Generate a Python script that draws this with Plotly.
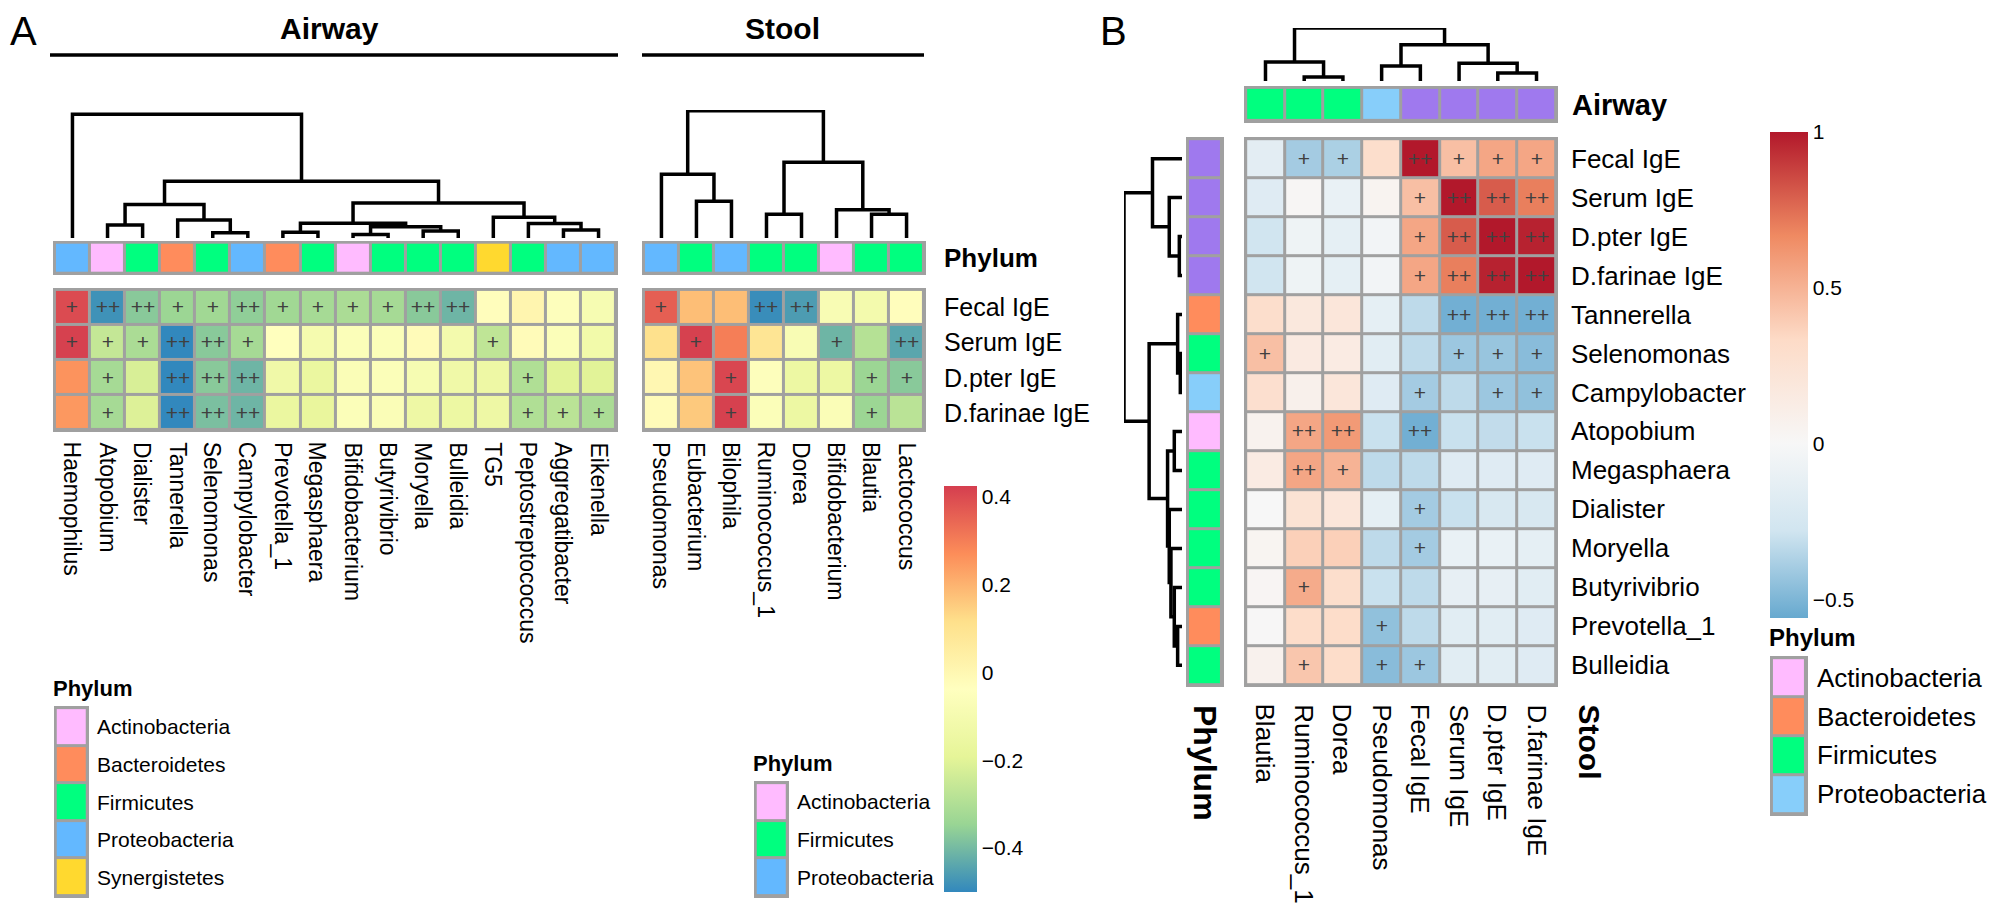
import plotly.graph_objects as go

W, H = 2007, 914
def fx(px): return px / W
def fy(py): return 1 - py / H

# ------------------------- DATA -------------------------
airway_genera = ["Haemophilus", "Atopobium", "Dialister", "Tannerella", "Selenomonas", "Campylobacter",
                 "Prevotella_1", "Megasphaera", "Bifidobacterium", "Butyrivibrio", "Moryella", "Bulleidia",
                 "TG5", "Peptostreptococcus", "Aggregatibacter", "Eikenella"]
airway_phylum = ["Proteobacteria", "Actinobacteria", "Firmicutes", "Bacteroidetes", "Firmicutes", "Proteobacteria",
                 "Bacteroidetes", "Firmicutes", "Actinobacteria", "Firmicutes", "Firmicutes", "Firmicutes",
                 "Synergistetes", "Firmicutes", "Proteobacteria", "Proteobacteria"]
stool_genera = ["Pseudomonas", "Eubacterium", "Bilophila", "Ruminococcus_1", "Dorea", "Bifidobacterium", "Blautia", "Lactococcus"]
stool_phylum = ["Proteobacteria", "Firmicutes", "Proteobacteria", "Firmicutes", "Firmicutes", "Actinobacteria", "Firmicutes", "Firmicutes"]
ige_rows = ["Fecal IgE", "Serum IgE", "D.pter IgE", "D.farinae IgE"]

airway_fecal    = [0.40, -0.48, -0.37, -0.34, -0.33, -0.36, -0.33, -0.32, -0.31, -0.32, -0.37, -0.41, -0.03, 0.01, -0.05, -0.09]
airway_serum    = [0.42, -0.26, -0.31, -0.50, -0.37, -0.32, -0.04, -0.10, -0.06, -0.06, -0.02, -0.11, -0.27, -0.02, -0.06, -0.12]
airway_dpter    = [0.26, -0.32, -0.22, -0.50, -0.37, -0.41, -0.13, -0.16, -0.07, -0.06, -0.09, -0.13, -0.14, -0.30, -0.20, -0.20]
airway_dfarinae = [0.25, -0.32, -0.21, -0.50, -0.39, -0.41, -0.16, -0.17, -0.06, -0.07, -0.14, -0.15, -0.14, -0.30, -0.28, -0.31]
airway_sig_fecal    = ["+", "++", "++", "+", "+", "++", "+", "+", "+", "+", "++", "++", "", "", "", ""]
airway_sig_serum    = ["+", "+", "+", "++", "++", "+", "", "", "", "", "", "", "+", "", "", ""]
airway_sig_dpter    = ["", "+", "", "++", "++", "++", "", "", "", "", "", "", "", "+", "", ""]
airway_sig_dfarinae = ["", "+", "", "++", "++", "++", "", "", "", "", "", "", "", "+", "+", "+"]

stool_fecal    = [0.36, 0.18, 0.18, -0.49, -0.46, -0.08, -0.11, -0.03]
stool_serum    = [0.11, 0.42, 0.30, 0.09, -0.08, -0.41, -0.29, -0.44]
stool_dpter    = [0.00, 0.17, 0.41, -0.05, -0.15, -0.15, -0.34, -0.37]
stool_dfarinae = [-0.02, 0.16, 0.42, -0.06, -0.15, -0.07, -0.34, -0.28]
stool_sig_fecal    = ["+", "", "", "++", "++", "", "", ""]
stool_sig_serum    = ["", "+", "", "", "", "+", "", "++"]
stool_sig_dpter    = ["", "", "+", "", "", "", "+", "+"]
stool_sig_dfarinae = ["", "", "+", "", "", "", "+", ""]

# dendrograms (hclust style merges: negative = leaf, positive = earlier merge; height)
airway_merges = [(-5, -6, 15), (-4, 1, 52), (-2, -3, 38), (3, 2, 97), (-7, -8, 17), (-9, -10, 10),
                 (-11, -12, 20), (6, 7, 33), (5, 8, 43), (-15, -16, 23), (-14, 10, 42), (-13, 11, 60),
                 (9, 12, 102), (4, 13, 165), (-1, 14, 360)]
stool_merges = [(-2, -3, 107), (-1, 1, 185), (-4, -5, 69), (-7, -8, 69), (-6, 4, 82), (3, 5, 220), (2, 6, 370)]

legendA_airway = ["Actinobacteria", "Bacteroidetes", "Firmicutes", "Proteobacteria", "Synergistetes"]
legendA_stool = ["Actinobacteria", "Firmicutes", "Proteobacteria"]

# Panel B
b_cols = ["Blautia", "Ruminococcus_1", "Dorea", "Pseudomonas", "Fecal IgE", "Serum IgE", "D.pter IgE", "D.farinae IgE"]
b_col_group = ["Firmicutes", "Firmicutes", "Firmicutes", "Proteobacteria", "IgE", "IgE", "IgE", "IgE"]
b_rows = ["Fecal IgE", "Serum IgE", "D.pter IgE", "D.farinae IgE", "Tannerella", "Selenomonas", "Campylobacter",
          "Atopobium", "Megasphaera", "Dialister", "Moryella", "Butyrivibrio", "Prevotella_1", "Bulleidia"]
b_row_group = ["IgE", "IgE", "IgE", "IgE", "Bacteroidetes", "Firmicutes", "Proteobacteria", "Actinobacteria",
               "Firmicutes", "Firmicutes", "Firmicutes", "Firmicutes", "Bacteroidetes", "Firmicutes"]

b_fecal_ige    = [-0.15, -0.40, -0.38, 0.30, 1.00, 0.45, 0.55, 0.55]
b_serum_ige    = [-0.18, 0.02, -0.10, 0.05, 0.45, 1.00, 0.80, 0.70]
b_dpter_ige    = [-0.28, -0.07, -0.13, -0.04, 0.55, 0.80, 1.00, 0.97]
b_dfarinae_ige = [-0.28, -0.07, -0.13, -0.04, 0.55, 0.70, 0.97, 1.00]
b_tannerella   = [0.30, 0.18, 0.20, -0.13, -0.33, -0.53, -0.53, -0.53]
b_selenomonas  = [0.45, 0.15, 0.14, -0.16, -0.33, -0.42, -0.43, -0.47]
b_campylo      = [0.28, 0.08, 0.20, -0.18, -0.40, -0.33, -0.42, -0.45]
b_atopobium    = [0.06, 0.55, 0.60, -0.30, -0.53, -0.30, -0.32, -0.30]
b_megasphaera  = [0.14, 0.55, 0.50, -0.33, -0.33, -0.18, -0.18, -0.18]
b_dialister    = [0.00, 0.24, 0.20, -0.13, -0.40, -0.30, -0.23, -0.23]
b_moryella     = [0.04, 0.38, 0.38, -0.33, -0.40, -0.10, -0.10, -0.13]
b_butyrivibrio = [0.03, 0.53, 0.30, -0.30, -0.33, -0.12, -0.12, -0.16]
b_prevotella   = [0.01, 0.31, 0.31, -0.45, -0.33, -0.16, -0.16, -0.18]
b_bulleidia    = [0.07, 0.42, 0.31, -0.47, -0.42, -0.16, -0.16, -0.18]

b_sig_fecal    = ["", "+", "+", "", "++", "+", "+", "+"]
b_sig_serum    = ["", "", "", "", "+", "++", "++", "++"]
b_sig_dpter    = ["", "", "", "", "+", "++", "++", "++"]
b_sig_dfarinae = ["", "", "", "", "+", "++", "++", "++"]
b_sig_tann     = ["", "", "", "", "", "++", "++", "++"]
b_sig_selen    = ["+", "", "", "", "", "+", "+", "+"]
b_sig_campy    = ["", "", "", "", "+", "", "+", "+"]
b_sig_atop     = ["", "++", "++", "", "++", "", "", ""]
b_sig_mega     = ["", "++", "+", "", "", "", "", ""]
b_sig_dial     = ["", "", "", "", "+", "", "", ""]
b_sig_mory     = ["", "", "", "", "+", "", "", ""]
b_sig_buty     = ["", "+", "", "", "", "", "", ""]
b_sig_prev     = ["", "", "", "+", "", "", "", ""]
b_sig_bull     = ["", "+", "", "+", "+", "", "", ""]

b_row_merges = [(-3, -4, 8), (-2, 1, 38), (-1, 2, 88), (-6, -7, 5), (-5, 4, 13), (-8, -9, 23),
                (-13, -14, 13), (-12, 7, 23), (-11, 8, 33), (-10, 9, 38), (6, 10, 43), (5, 11, 98), (3, 12, 173)]
b_col_merges = [(-2, -3, 4.5), (-1, 1, 21.5), (-7, -8, 9), (-6, 3, 20), (-4, -5, 17), (5, 4, 41), (2, 6, 60)]

legendB = ["Actinobacteria", "Bacteroidetes", "Firmicutes", "Proteobacteria"]

# ------------------------- STYLE -------------------------
PHY_A = {"Actinobacteria": "#FFBBFF", "Bacteroidetes": "#FF8C5C", "Firmicutes": "#00FF7F",
         "Proteobacteria": "#63B8FF", "Synergistetes": "#FFD92F"}
PHY_B = {"Actinobacteria": "#FFBBFF", "Bacteroidetes": "#FF8C5C", "Firmicutes": "#00FF7F",
         "Proteobacteria": "#87CEFA", "IgE": "#9F79EE"}
GRID = "#A0A0A0"
FONT = "Liberation Sans, Arial, sans-serif"
SPECTRAL = [[0, "#3288BD"], [1/6, "#99D594"], [2/6, "#E6F598"], [3/6, "#FFFFBF"],
            [4/6, "#FEE08B"], [5/6, "#FC8D59"], [1, "#D53E4F"]]
A_MIN, A_MAX = -0.5, 0.425
B_MIN, B_MAX = -0.56, 1.0
def bf(v): return (v - B_MIN) / (B_MAX - B_MIN)
RDBU = [[0, "#67A9CF"], [bf(-0.28), "#D1E5F0"], [bf(0), "#F7F7F7"], [bf(0.333), "#FDDBC7"],
        [bf(0.667), "#EF8A62"], [1, "#B2182B"]]
E = 0.055

fig = go.Figure()
layout_axes = {}
shapes = []
annots = []

def add_axis(kind, idx, domain, rng, anchor):
    key = f"{kind}axis" + ("" if idx == 1 else str(idx))
    layout_axes[key] = dict(domain=domain, range=rng, visible=False, fixedrange=True, anchor=anchor)

def ref(kind, idx):
    return kind + ("" if idx == 1 else str(idx))

def bg(xi, yi):
    shapes.append(dict(type="rect", xref=ref("x", xi) + " domain", yref=ref("y", yi) + " domain",
                       x0=0, x1=1, y0=0, y1=1, fillcolor=GRID, line=dict(width=0), layer="below"))

def discrete(cats, cmap):
    uniq = []
    for c in cats:
        if c not in uniq:
            uniq.append(c)
    n = len(uniq)
    cs = []
    for i, c in enumerate(uniq):
        cs.append([i / n, cmap[c]]); cs.append([(i + 1) / n, cmap[c]])
    return [uniq.index(c) for c in cats], cs, n

def dendro(merges):
    pos, hgt = {}, {}
    def get(i):
        if i < 0:
            return -i - 1, 0.0
        return pos[i], hgt[i]
    xs, ys = [], []
    for k, (a, b, h) in enumerate(merges, start=1):
        xa, ha = get(a); xb, hb = get(b)
        xs += [xa, xa, xb, xb, None]; ys += [ha, h, h, hb, None]
        pos[k] = (xa + xb) / 2; hgt[k] = h
    return xs, ys

# ------------------------- AXES (pixel layout) -------------------------
A_TOP, A_BOT = 280, 424
ANN_TOP, ANN_BOT = 233, 267
DEN_TOP, DEN_BOT = 102, 230
AW_L, AW_R = 45, 610
ST_L, ST_R = 634, 918
add_axis("x", 1, [fx(AW_L), fx(AW_R)], [-0.5 - E, 15.5 + E], "y")
add_axis("x", 2, [fx(ST_L), fx(ST_R)], [-0.5 - E, 7.5 + E], "y")
add_axis("y", 1, [fy(A_BOT), fy(A_TOP)], [3.5 + E, -0.5 - E], "x")
add_axis("y", 2, [fy(ANN_BOT), fy(ANN_TOP)], [0.5 + E, -0.5 - E], "x")
add_axis("y", 3, [fy(DEN_BOT), fy(DEN_TOP)], [0, 372], "x")
# legends A
LA_L, LA_R, LA_T, LA_B = 46, 81, 698, 890
LS_L, LS_R, LS_T, LS_B = 746, 781, 773, 890
add_axis("x", 3, [fx(LA_L), fx(LA_R)], [-0.5 - E, 0.5 + E], "y4")
add_axis("y", 4, [fy(LA_B), fy(LA_T)], [4.5 + E, -0.5 - E], "x3")
add_axis("x", 4, [fx(LS_L), fx(LS_R)], [-0.5 - E, 0.5 + E], "y5")
add_axis("y", 5, [fy(LS_B), fy(LS_T)], [2.5 + E, -0.5 - E], "x4")
# panel B
B_L, B_R, B_T, B_B = 1236, 1550, 129, 679
add_axis("x", 5, [fx(B_L), fx(B_R)], [-0.5 - E, 7.5 + E], "y6")
add_axis("y", 6, [fy(B_B), fy(B_T)], [13.5 + E, -0.5 - E], "x5")
add_axis("y", 7, [fy(115), fy(78)], [0.5 + E, -0.5 - E], "x5")
add_axis("x", 6, [fx(1178), fx(1216)], [-0.5 - E, 0.5 + E], "y6")
add_axis("y", 8, [fy(73), fy(20)], [0, 60], "x5")
add_axis("x", 7, [fx(1116), fx(1174)], [173, 0], "y6")
LB_L, LB_R, LB_T, LB_B = 1762, 1800, 648, 808
add_axis("x", 8, [fx(LB_L), fx(LB_R)], [-0.5 - E, 0.5 + E], "y9")
add_axis("y", 9, [fy(LB_B), fy(LB_T)], [3.5 + E, -0.5 - E], "x8")

MARK = dict(size=21, color="#404040", family=FONT)

# ------------------------- PANEL A -------------------------
fig.add_trace(go.Heatmap(z=[airway_fecal, airway_serum, airway_dpter, airway_dfarinae],
                         x=list(range(len(airway_genera))), y=list(range(len(ige_rows))),
                         text=[airway_sig_fecal, airway_sig_serum, airway_sig_dpter, airway_sig_dfarinae],
                         texttemplate="%{text}", textfont=MARK, coloraxis="coloraxis",
                         xgap=3, ygap=3, hoverinfo="skip", xaxis="x", yaxis="y"))
fig.add_trace(go.Heatmap(z=[stool_fecal, stool_serum, stool_dpter, stool_dfarinae],
                         x=list(range(len(stool_genera))), y=list(range(len(ige_rows))),
                         text=[stool_sig_fecal, stool_sig_serum, stool_sig_dpter, stool_sig_dfarinae],
                         texttemplate="%{text}", textfont=MARK, coloraxis="coloraxis",
                         xgap=3, ygap=3, hoverinfo="skip", xaxis="x2", yaxis="y"))
bg(1, 1); bg(2, 1)

for xi, cats in ((1, airway_phylum), (2, stool_phylum)):
    zi, cs, n = discrete(cats, PHY_A)
    fig.add_trace(go.Heatmap(z=[zi], x=list(range(len(cats))), y=[0], colorscale=cs, zmin=-0.5, zmax=n - 0.5,
                             showscale=False, xgap=3, ygap=3, hoverinfo="skip", xaxis=ref("x", xi), yaxis="y2"))
    bg(xi, 2)

for xi, merges in ((1, airway_merges), (2, stool_merges)):
    dx, dy = dendro(merges)
    fig.add_trace(go.Scatter(x=dx, y=dy, mode="lines", line=dict(color="black", width=3.5),
                             hoverinfo="skip", showlegend=False, xaxis=ref("x", xi), yaxis="y3"))

# legends A
for xi, yi, cats in ((3, 4, legendA_airway), (4, 5, legendA_stool)):
    zi, cs, n = discrete(cats, PHY_A)
    fig.add_trace(go.Heatmap(z=[[v] for v in zi], x=[0], y=list(range(len(cats))), colorscale=cs,
                             zmin=-0.5, zmax=n - 0.5, showscale=False, xgap=3, ygap=3, hoverinfo="skip",
                             xaxis=ref("x", xi), yaxis=ref("y", yi)))
    bg(xi, yi)
    for i, c in enumerate(cats):
        annots.append(dict(text=c, xref=ref("x", xi) + " domain", x=1, xshift=6, xanchor="left",
                           yref=ref("y", yi), y=i, yanchor="middle", showarrow=False,
                           font=dict(size=21)))
annots.append(dict(text="<b>Phylum</b>", xref="paper", x=fx(LA_L - 3), xanchor="left", yref="paper",
                   y=fy(LA_T - 18), yanchor="middle", showarrow=False, font=dict(size=22)))
annots.append(dict(text="<b>Phylum</b>", xref="paper", x=fx(LS_L - 3), xanchor="left", yref="paper",
                   y=fy(LS_T - 18), yanchor="middle", showarrow=False, font=dict(size=22)))

# labels A
for i, r in enumerate(ige_rows):
    annots.append(dict(text=r, xref="paper", x=fx(934), xanchor="left", yref="y", y=i, yanchor="middle",
                       showarrow=False, font=dict(size=25)))
annots.append(dict(text="<b>Phylum</b>", xref="paper", x=fx(934), xanchor="left", yref="y2", y=0,
                   yanchor="middle", showarrow=False, font=dict(size=26)))
for xi, genera in ((1, airway_genera), (2, stool_genera)):
    for i, g in enumerate(genera):
        annots.append(dict(text=g, xref=ref("x", xi), x=i, xanchor="center", yref="paper", y=fy(A_BOT + 8),
                           yanchor="top", textangle=90, showarrow=False, font=dict(size=23)))

# titles
annots.append(dict(text="A", xref="paper", x=0, xanchor="left", yref="paper", y=fy(23), yanchor="middle",
                   showarrow=False, font=dict(size=40)))
annots.append(dict(text="<b>Airway</b>", xref="paper", x=fx((AW_L + AW_R) / 2 - 6), xanchor="center", yref="paper",
                   y=fy(20), yanchor="middle", showarrow=False, font=dict(size=30)))
annots.append(dict(text="<b>Stool</b>", xref="paper", x=fx((ST_L + ST_R) / 2 - 2), xanchor="center", yref="paper",
                   y=fy(20), yanchor="middle", showarrow=False, font=dict(size=30)))
for x0, x1 in ((AW_L - 3, AW_R), (ST_L, ST_R - 2)):
    shapes.append(dict(type="line", xref="paper", yref="paper", x0=fx(x0), x1=fx(x1), y0=fy(47), y1=fy(47),
                       line=dict(color="black", width=3.5)))
annots.append(dict(text="B", xref="paper", x=fx(1090), xanchor="left", yref="paper", y=fy(23), yanchor="middle",
                   showarrow=False, font=dict(size=40)))

# ------------------------- PANEL B -------------------------
b_matrix = [b_fecal_ige, b_serum_ige, b_dpter_ige, b_dfarinae_ige, b_tannerella, b_selenomonas, b_campylo,
            b_atopobium, b_megasphaera, b_dialister, b_moryella, b_butyrivibrio, b_prevotella, b_bulleidia]
b_sig = [b_sig_fecal, b_sig_serum, b_sig_dpter, b_sig_dfarinae, b_sig_tann, b_sig_selen, b_sig_campy,
         b_sig_atop, b_sig_mega, b_sig_dial, b_sig_mory, b_sig_buty, b_sig_prev, b_sig_bull]
fig.add_trace(go.Heatmap(z=b_matrix, x=list(range(len(b_cols))), y=list(range(len(b_rows))), text=b_sig,
                         texttemplate="%{text}", textfont=MARK, coloraxis="coloraxis2", xgap=3, ygap=3,
                         hoverinfo="skip", xaxis="x5", yaxis="y6"))
bg(5, 6)
zi, cs, n = discrete(b_col_group, PHY_B)
fig.add_trace(go.Heatmap(z=[zi], x=list(range(len(b_cols))), y=[0], colorscale=cs, zmin=-0.5, zmax=n - 0.5,
                         showscale=False, xgap=3, ygap=3, hoverinfo="skip", xaxis="x5", yaxis="y7"))
bg(5, 7)
zi, cs, n = discrete(b_row_group, PHY_B)
fig.add_trace(go.Heatmap(z=[[v] for v in zi], x=[0], y=list(range(len(b_rows))), colorscale=cs, zmin=-0.5,
                         zmax=n - 0.5, showscale=False, xgap=3, ygap=3, hoverinfo="skip", xaxis="x6", yaxis="y6"))
bg(6, 6)
dx, dy = dendro(b_col_merges)
fig.add_trace(go.Scatter(x=dx, y=dy, mode="lines", line=dict(color="black", width=3.5), hoverinfo="skip",
                         showlegend=False, xaxis="x5", yaxis="y8"))
dx, dy = dendro(b_row_merges)
fig.add_trace(go.Scatter(x=dy, y=dx, mode="lines", line=dict(color="black", width=3.5), hoverinfo="skip",
                         showlegend=False, xaxis="x7", yaxis="y6"))

zi, cs, n = discrete(legendB, PHY_B)
fig.add_trace(go.Heatmap(z=[[v] for v in zi], x=[0], y=list(range(len(legendB))), colorscale=cs, zmin=-0.5,
                         zmax=n - 0.5, showscale=False, xgap=3, ygap=3, hoverinfo="skip", xaxis="x8", yaxis="y9"))
bg(8, 9)
for i, c in enumerate(legendB):
    annots.append(dict(text=c, xref="x8 domain", x=1, xshift=7, xanchor="left", yref="y9", y=i,
                       yanchor="middle", showarrow=False, font=dict(size=26)))
annots.append(dict(text="<b>Phylum</b>", xref="paper", x=fx(LB_L - 3), xanchor="left", yref="paper",
                   y=fy(LB_T - 19), yanchor="middle", showarrow=False, font=dict(size=24)))

for i, r in enumerate(b_rows):
    annots.append(dict(text=r, xref="paper", x=fx(1561), xanchor="left", yref="y6", y=i, yanchor="middle",
                       showarrow=False, font=dict(size=26)))
for i, c in enumerate(b_cols):
    annots.append(dict(text=c, xref="x5", x=i, xanchor="center", yref="paper", y=fy(B_B + 15), yanchor="top",
                       textangle=90, showarrow=False, font=dict(size=26)))
annots.append(dict(text="<b>Airway</b>", xref="paper", x=fx(1562), xanchor="left", yref="y7", y=0,
                   yanchor="middle", showarrow=False, font=dict(size=29)))
annots.append(dict(text="<b>Stool</b>", xref="paper", x=fx(1581), xanchor="center", yref="paper",
                   y=fy(B_B + 15), yanchor="top", textangle=90, showarrow=False, font=dict(size=30)))
annots.append(dict(text="<b>Phylum</b>", xref="x6", x=0, xanchor="center", yref="paper", y=fy(B_B + 16),
                   yanchor="top", textangle=90, showarrow=False, font=dict(size=32)))

fig.update_layout(
    width=W, height=H, margin=dict(l=0, r=0, t=0, b=0), paper_bgcolor="white", plot_bgcolor="white",
    font=dict(family=FONT, color="black"), showlegend=False,
    coloraxis=dict(colorscale=SPECTRAL, cmin=A_MIN, cmax=A_MAX,
                   colorbar=dict(x=fx(936), xanchor="left", y=fy(478), yanchor="top", len=406, lenmode="pixels",
                                 thickness=33, thicknessmode="pixels", outlinewidth=0, xpad=0, ypad=0,
                                 tickvals=[0.4, 0.2, 0, -0.2, -0.4], ticktext=["0.4", "0.2", "0", "−0.2", "−0.4"],
                                 ticks="", tickfont=dict(size=21))),
    coloraxis2=dict(colorscale=RDBU, cmin=B_MIN, cmax=B_MAX,
                    colorbar=dict(x=fx(1762), xanchor="left", y=fy(124), yanchor="top", len=486, lenmode="pixels",
                                  thickness=38, thicknessmode="pixels", outlinewidth=0, xpad=0, ypad=0,
                                  tickvals=[1, 0.5, 0, -0.5], ticktext=["1", "0.5", "0", "−0.5"],
                                  ticks="", tickfont=dict(size=21))),
    shapes=shapes, annotations=annots, **layout_axes)

fig.write_html("out.html")
